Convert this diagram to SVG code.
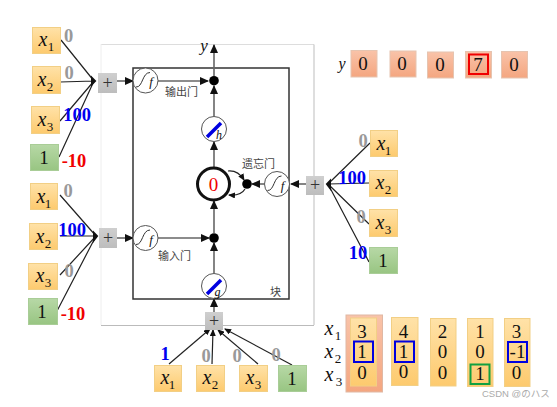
<svg xmlns="http://www.w3.org/2000/svg" xmlns:xlink="http://www.w3.org/1999/xlink" width="557" height="407" viewBox="0 0 557 407">
<style>
.m{font-family:"Liberation Serif","DejaVu Serif",serif;text-anchor:middle;fill:#111}
.i{font-style:italic;font-size:20px}
.s{font-size:13px;font-style:normal}
.n{font-size:19px}
.w{font-family:"Liberation Serif",serif;font-weight:bold;font-size:18.500px;text-anchor:middle}
.g0{fill:#999}.bl{fill:#0000f0}.rd{fill:#f00000}
.or{fill:url(#og);stroke:#f2cf85;stroke-width:1}
.gr{fill:url(#gg);stroke:#a9cd97;stroke-width:1}
.sa{fill:url(#sg);stroke:#e6c4b0;stroke-width:1}
.pl{fill:url(#pg)}
.lk{stroke:#222;stroke-width:1.2;fill:none}
.ah{stroke:#666;stroke-width:1.6;fill:none;marker-end:url(#a)}
.ak{stroke:#222;stroke-width:1.2;fill:none;marker-end:url(#b)}
.c{fill:#fff;stroke:#555;stroke-width:1}
.cn{font-family:"Noto Sans CJK SC","Noto Sans CJK JP",sans-serif;font-size:11px;fill:#444}
.bx{fill:none;stroke:#0000e0;stroke-width:2}
.ff{font-size:13px;font-style:italic}
.pp{font-size:18px;fill:#333}
.mx{font-size:20px;font-style:italic}
.ms{font-size:13px}
</style>
<defs>
<linearGradient id="og" x1="0" y1="0" x2="0" y2="1"><stop offset="0" stop-color="#ffe2a8"/><stop offset="1" stop-color="#fdca6e"/></linearGradient>
<linearGradient id="gg" x1="0" y1="0" x2="0" y2="1"><stop offset="0" stop-color="#b7d8a6"/><stop offset="1" stop-color="#98c582"/></linearGradient>
<linearGradient id="sg" x1="0" y1="0" x2="0" y2="1"><stop offset="0" stop-color="#f9c3a9"/><stop offset="1" stop-color="#f4a680"/></linearGradient>
<linearGradient id="pg" x1="0" y1="0" x2="0" y2="1"><stop offset="0" stop-color="#cfcfcf"/><stop offset="1" stop-color="#bdbdbd"/></linearGradient>
<marker id="a" markerWidth="9" markerHeight="8" refX="8" refY="4" orient="auto" markerUnits="userSpaceOnUse"><path d="M0 0L9 4L0 8z" fill="#111"/></marker>
<marker id="b" markerWidth="7" markerHeight="6" refX="6" refY="3" orient="auto" markerUnits="userSpaceOnUse"><path d="M0 0L7 3L0 6z" fill="#111"/></marker>
<path id="sig" d="M-9 6.500C-2 7-3-8 5-8" fill="none" stroke="#333" stroke-width="1"/>
</defs>
<rect width="557" height="407" fill="#fff"/>
<path d="M101 44.500H314" stroke="#ddd" stroke-width="1.200" fill="none"/>
<path d="M101 44V325" stroke="#eee" stroke-width="1" fill="none"/>
<path d="M314 44.500V325" stroke="#c8c8c8" stroke-width="1.200" fill="none"/>
<path d="M101 325.500H314" stroke="#bbb" stroke-width="1.200" fill="none"/>
<rect x="133" y="68" width="156" height="231" fill="none" stroke="#333" stroke-width="1.500"/>

<g id="connectors">
<path class="lk" d="M61 40L94 81M60 82L94 81M60 121L94 81M59 157L94 81"/>
<path class="lk" d="M60 195L96 236M60 236L96 236M60 275L96 236M57 311L96 236"/>
<path class="lk" d="M370 143L328 184M369 183L328 184M369 224L328 184M369 262L328 184"/>
<path d="M92 78L95 81L92 84zM94 233L97 236L94 240zM330 181L327 184L330 188z" fill="#111" stroke="#111" stroke-width="2"/>
<path class="ak" d="M169 364L210 329"/>
<path class="ak" d="M212 364L213 330"/>
<path class="ak" d="M258 364L218 330"/>
<path class="ak" d="M292 365L225 329"/>
<path class="ah" d="M117 81L133 81"/>
<path class="ah" d="M117 238L133 238"/>
<path class="ah" d="M306 184L291 184"/>
<path class="ah" d="M214 312L214 299"/>
<path class="ah" d="M214 76L214 45"/>
<path class="ah" d="M158 81L208 81"/>
<path class="ah" d="M214 116L214 86"/>
<path class="ah" d="M214 167L214 142"/>
<path class="ah" d="M214 273L214 243"/>
<path class="ah" d="M214 233L214 201"/>
<path class="ah" d="M158 238L209 238"/>
<path class="ah" d="M264 184L252 184"/>
<path class="ak" d="M228 171Q238 170 244 180"/>
<path class="ak" d="M245 189Q241 196 229 195"/>
</g>

<g id="input-top">
<g id="t-x1"><rect class="or" x="32.500" y="27.500" width="28" height="26"/><text class="m i" x="43" y="46">x</text><text class="m s" x="51" y="51">1</text></g>
<g id="t-x2"><rect class="or" x="32.500" y="66.500" width="28" height="27"/><text class="m i" x="42" y="86">x</text><text class="m s" x="50" y="91">2</text></g>
<g id="t-x3"><rect class="or" x="31.500" y="106.500" width="28" height="27"/><text class="m i" x="42" y="126">x</text><text class="m s" x="50" y="131">3</text></g>
<g id="t-b"><rect class="gr" x="30.500" y="144.500" width="28" height="26"/><text class="m n" x="44" y="164">1</text></g>
<text class="w g0" x="68.500" y="42">0</text><text class="w g0" x="69" y="79">0</text><text class="w bl" x="77" y="121">100</text><text class="w rd" x="74" y="167">-10</text>
</g>
<g id="input-mid">
<g id="m-x1"><rect class="or" x="30.500" y="183.500" width="27" height="26"/><text class="m i" x="41" y="203">x</text><text class="m s" x="48" y="208">1</text></g>
<g id="m-x2"><rect class="or" x="29.500" y="223.500" width="28" height="26"/><text class="m i" x="40" y="243">x</text><text class="m s" x="48" y="248">2</text></g>
<g id="m-x3"><rect class="or" x="28.500" y="263.500" width="29" height="26"/><text class="m i" x="40" y="282">x</text><text class="m s" x="48" y="287">3</text></g>
<g id="m-b"><rect class="gr" x="28.500" y="298.500" width="29" height="26"/><text class="m n" x="42" y="318">1</text></g>
<text class="w g0" x="68" y="197">0</text><text class="w bl" x="72" y="236">100</text><text class="w g0" x="69" y="277">0</text><text class="w rd" x="73" y="320">-10</text>
</g>
<g id="input-right">
<g id="r-x1"><rect class="or" x="370.500" y="130.500" width="27" height="26"/><text class="m i" x="381" y="150">x</text><text class="m s" x="388" y="155">1</text></g>
<g id="r-x2"><rect class="or" x="369.500" y="170.500" width="28" height="26"/><text class="m i" x="380" y="189">x</text><text class="m s" x="388" y="194">2</text></g>
<g id="r-x3"><rect class="or" x="369.500" y="209.500" width="28" height="27"/><text class="m i" x="380" y="229">x</text><text class="m s" x="388" y="234">3</text></g>
<g id="r-b"><rect class="gr" x="369.500" y="247.500" width="28" height="26"/><text class="m n" x="383" y="267">1</text></g>
<text class="w g0" x="363" y="147">0</text><text class="w bl" x="352" y="184">100</text><text class="w g0" x="361" y="223">0</text><text class="w bl" x="358" y="259">10</text>
</g>
<g id="input-bottom">
<g id="b-x1"><rect class="or" x="154.500" y="365.500" width="27" height="26"/><text class="m i" x="165" y="384">x</text><text class="m s" x="172" y="389">1</text></g>
<g id="b-x2"><rect class="or" x="196.500" y="365.500" width="28" height="26"/><text class="m i" x="207" y="384">x</text><text class="m s" x="215" y="389">2</text></g>
<g id="b-x3"><rect class="or" x="239.500" y="365.500" width="28" height="26"/><text class="m i" x="250" y="384">x</text><text class="m s" x="258" y="389">3</text></g>
<g id="b-b"><rect class="gr" x="278.500" y="365.500" width="28" height="26"/><text class="m n" x="292" y="385">1</text></g>
<text class="w bl" x="165" y="360">1</text><text class="w g0" x="206" y="362">0</text><text class="w g0" x="237" y="362">0</text><text class="w g0" x="276" y="361">0</text>
</g>

<g id="plus-top"><rect class="pl" x="98" y="73" width="19" height="20"/><text class="m pp" x="107.500" y="89">+</text></g>
<g id="plus-mid"><rect class="pl" x="99" y="228" width="18" height="20"/><text class="m pp" x="108" y="243.500">+</text></g>
<g id="plus-right"><rect class="pl" x="306" y="176" width="18" height="19"/><text class="m pp" x="315" y="190.500">+</text></g>
<g id="plus-bottom"><rect class="pl" x="205" y="312" width="18" height="18"/><text class="m pp" x="214" y="326.500">+</text></g>

<g id="f-out"><circle class="c" cx="145.500" cy="80.500" r="12.500"/><use xlink:href="#sig" href="#sig" x="145" y="80.500"/><text class="m ff" x="151" y="86">f</text></g>
<g id="f-in"><circle class="c" cx="145.500" cy="238" r="12.500"/><use xlink:href="#sig" href="#sig" x="145" y="238"/><text class="m ff" x="151" y="243.500">f</text></g>
<g id="f-forget"><circle class="c" cx="277" cy="184" r="12.500"/><use xlink:href="#sig" href="#sig" x="276.500" y="184"/><text class="m ff" x="282.500" y="189.500">f</text></g>
<g id="h"><circle class="c" cx="214" cy="129" r="12.500"/><path d="M207 137L221 123" stroke="#0000e0" stroke-width="3.500"/><text class="m" x="219" y="139" font-size="12" font-style="italic">h</text></g>
<g id="g"><circle class="c" cx="214" cy="286" r="12.500"/><path d="M207 294L221 280" stroke="#0000e0" stroke-width="3.500"/><text class="m" x="217.500" y="296" font-size="12" font-style="italic">g</text></g>
<g id="cell"><circle cx="213.500" cy="184" r="16" fill="#fff" stroke="#111" stroke-width="3"/><text class="m" x="213.500" y="190.500" font-size="19" style="fill:#f00000">0</text></g>
<g id="dots"><circle cx="214" cy="80.700" r="4.800" fill="#000"/><circle cx="247" cy="184" r="4.800" fill="#000"/><circle cx="214" cy="238" r="4.800" fill="#000"/></g>

<text class="m" x="204" y="51" font-size="17" font-style="italic">y</text>
<text class="cn" x="165" y="96">输出门</text>
<text class="cn" x="158" y="260">输入门</text>
<text class="cn" x="242" y="168">遗忘门</text>
<text class="cn" x="270" y="296">块</text>

<g id="y-row">
<text class="m" x="342" y="69" font-size="16" font-style="italic">y</text>
<g><rect class="sa" x="351" y="50.500" width="26" height="26.500"/><text class="m n" x="363" y="70">0</text></g>
<g><rect class="sa" x="390" y="51" width="26" height="26"/><text class="m n" x="402" y="70">0</text></g>
<g><rect class="sa" x="427.500" y="52" width="26" height="26"/><text class="m n" x="440" y="71">0</text></g>
<g><rect class="sa" x="465.500" y="51.500" width="26" height="26.500"/><rect x="469" y="54.500" width="19" height="19.500" fill="none" stroke="#f00000" stroke-width="2"/><text class="m n" x="478" y="70.500">7</text></g>
<g><rect class="sa" x="501.500" y="51.500" width="26" height="26.500"/><text class="m n" x="514" y="71">0</text></g>
</g>

<g id="matrix">
<text class="m mx" x="329" y="335">x</text><text class="m ms" x="338" y="340">1</text>
<text class="m mx" x="329" y="358">x</text><text class="m ms" x="338" y="363">2</text>
<text class="m mx" x="329" y="381">x</text><text class="m ms" x="339" y="386">3</text>
<rect x="346" y="315" width="36.500" height="77" fill="url(#sg)" stroke="#e0b8a4"/>
<g><rect class="or" x="350.500" y="318" width="26" height="68"/><text class="m n" x="362" y="338">3</text><text class="m n" x="362" y="358">1</text><text class="m n" x="362" y="379">0</text><rect class="bx" x="354" y="341.500" width="19" height="20.500"/></g>
<g><rect class="or" x="391.500" y="317.500" width="26.500" height="68"/><text class="m n" x="403.500" y="338">4</text><text class="m n" x="403.500" y="358">1</text><text class="m n" x="403.500" y="378">0</text><rect class="bx" x="395" y="341.500" width="19" height="20.500"/></g>
<g><rect class="or" x="430.500" y="318.500" width="25.500" height="67.500"/><text class="m n" x="442.500" y="338">2</text><text class="m n" x="442.500" y="358">0</text><text class="m n" x="442.500" y="379">0</text></g>
<g><rect class="or" x="467.500" y="318.500" width="25.500" height="68"/><text class="m n" x="480" y="338">1</text><text class="m n" x="480" y="358">0</text><text class="m n" x="480" y="380">1</text><rect x="470.500" y="364.500" width="19" height="19.500" fill="none" stroke="#10a040" stroke-width="2"/></g>
<g><rect class="or" x="504.500" y="318.500" width="25.500" height="68"/><text class="m n" x="516.500" y="338">3</text><text class="m n" x="517.500" y="358">-1</text><text class="m n" x="516.500" y="379">0</text><rect class="bx" x="508" y="342" width="19" height="20"/></g>
</g>
<text x="482" y="397" font-family="'Liberation Sans','Noto Sans CJK JP',sans-serif" font-size="9.500" fill="#aaa">CSDN @のハス</text>
</svg>
